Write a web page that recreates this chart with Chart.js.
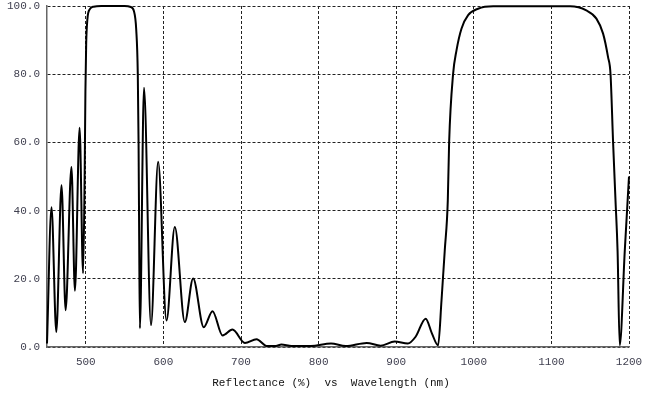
<!DOCTYPE html>
<html>
<head>
<meta charset="utf-8">
<title>Reflectance vs Wavelength</title>
<script src="https://cdn.jsdelivr.net/npm/chart.js@4/dist/chart.umd.min.js"></script>
<style>
    body { margin: 0; background: #fff; }
    canvas { display: block; }
</style>
</head>
<body>
<canvas id="myChart" width="648" height="393"></canvas>
<script>
// wavelength (nm) and reflectance (%)
const wavelength = [
    450, 455.8, 462, 468.7, 474, 481.5, 486, 492, 496.5, 498.5,
    499.5, 500.5, 502, 505, 510, 520, 550, 558, 562, 565,
    567, 568, 568.7, 569.7, 575, 584, 593.2, 604, 614.7, 627.6,
    638.3, 652, 663.3, 676.2, 689, 705, 720, 733, 745, 752,
    765, 790, 816, 835, 862, 880, 898, 915, 925, 938,
    946, 954, 958.4, 962.6, 966.5, 968.2, 973.3, 977.7, 984.2, 992.7,
    1005.5, 1025, 1124, 1145, 1158, 1166.6, 1173, 1176.2, 1179.5, 1182.6,
    1185.3, 1188, 1194.6, 1200
];
const reflectance = [
    1, 41, 4.4, 47.4, 10.8, 52.8, 16.5, 64.3, 21.6, 50,
    75, 89, 96, 99, 99.8, 100, 100, 99.7, 98.5, 93,
    80, 60, 35, 5.5, 76, 6.4, 54.3, 7.8, 35.2, 7.3,
    20.1, 5.8, 10.5, 3.4, 5.1, 1.2, 2.3, 0.3, 0.3, 0.7,
    0.3, 0.3, 1.0, 0.3, 1.2, 0.4, 1.6, 1.0, 3, 8.3,
    4, 0.5, 13.7, 28.4, 43, 60, 80, 87, 93.4, 97.3,
    99.2, 99.9, 99.9, 98.7, 96.3, 91.9, 85, 80, 60, 43,
    28, 0.5, 28.4, 50
];
const xTicks = [500, 600, 700, 800, 900, 1000, 1100, 1200];
const yTicks = [0, 20, 40, 60, 80, 100];
const xTitle = 'Reflectance (%)  vs  Wavelength (nm)';

let canvasChart = document.getElementById('myChart').getContext('2d');

const points = wavelength.map((w, i) => ({ x: w, y: reflectance[i] }));

const tickFont = { family: '"Liberation Mono", "DejaVu Sans Mono", monospace', size: 11 };

const titlePlugin = {
    id: 'bottomTitle',
    afterDraw(chart) {
        const ctx = chart.ctx;
        ctx.save();
        ctx.font = '11px "Liberation Mono", "DejaVu Sans Mono", monospace';
        ctx.fillStyle = '#111';
        ctx.textAlign = 'center';
        ctx.textBaseline = 'middle';
        ctx.fillText(xTitle, 331, 383);
        ctx.restore();
    }
};

const config = {
    type: 'line',
    data: {
        datasets: [{
            data: points,
            borderColor: '#000',
            borderWidth: 2,
            pointRadius: 0,
            cubicInterpolationMode: 'monotone',
            fill: false,
            clip: 4
        }]
    },
    options: {
        responsive: false,
        animation: false,
        devicePixelRatio: 1,
        layout: { padding: { left: 0, right: 19, top: 6, bottom: 0 } },
        plugins: {
            legend: { display: false },
            tooltip: { enabled: false }
        },
        scales: {
            x: {
                type: 'linear',
                min: 450,
                max: 1200,
                afterBuildTicks: (axis) => { axis.ticks = xTicks.map(v => ({ value: v })); },
                afterFit: (axis) => {
                    axis.height = 46;
                    axis.paddingLeft = 0;
                    axis.paddingRight = 0;
                },
                ticks: {
                    font: tickFont,
                    color: '#404050',
                    padding: 8,
                    maxRotation: 0,
                    callback: (v) => String(v)
                },
                grid: { color: '#222', lineWidth: 1, drawTicks: false },
                border: { display: true, color: '#666', width: 1.5, dash: [3, 2] }
            },
            y: {
                min: 0,
                max: 100,
                afterBuildTicks: (axis) => { axis.ticks = yTicks.map(v => ({ value: v })); },
                afterFit: (axis) => {
                    axis.width = 47;
                    axis.paddingTop = 0;
                    axis.paddingBottom = 0;
                },
                ticks: {
                    font: tickFont,
                    color: '#404050',
                    padding: 7,
                    callback: (v) => v.toFixed(1)
                },
                grid: { color: '#222', lineWidth: 1, drawTicks: false },
                border: { display: true, color: '#666', width: 1.5, dash: [3, 2] }
            }
        }
    },
    plugins: [titlePlugin]
};

let myChart = new Chart(canvasChart, config);
</script>
</body>
</html>
